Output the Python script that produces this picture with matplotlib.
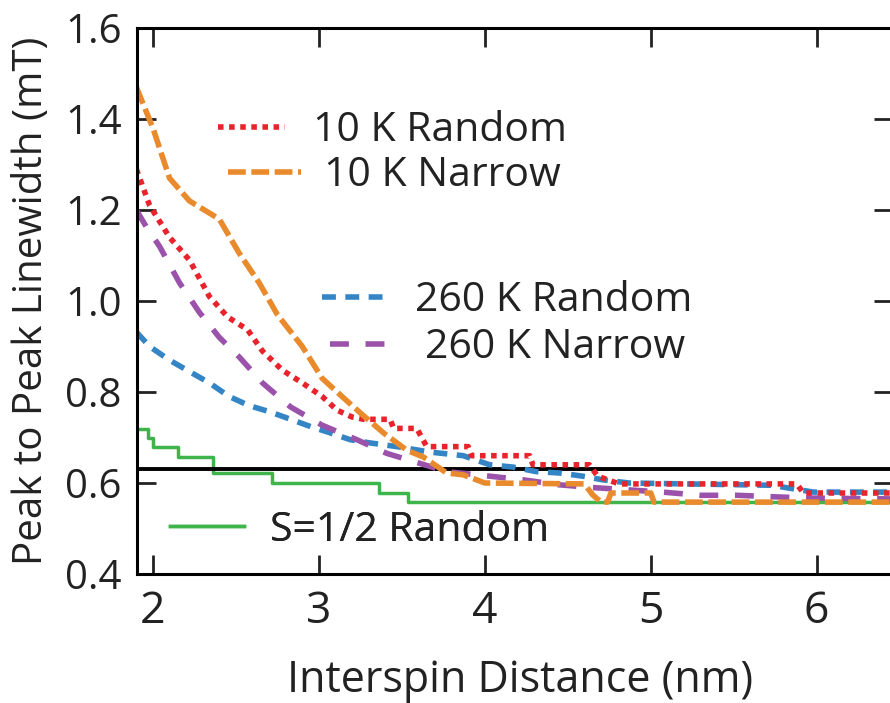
import matplotlib
matplotlib.use("Agg")
import matplotlib.pyplot as plt

plt.rcParams['font.family'] = ['Open Sans', 'DejaVu Sans']

# 10 K Random
red_x = [1.90, 1.98, 2.10, 2.22, 2.28, 2.34, 2.45, 2.57, 2.66, 2.78, 2.90, 3.02, 3.11, 3.20, 3.27,
         3.43, 3.45, 3.59, 3.65, 3.90, 3.92, 4.27, 4.29, 4.63, 4.68, 4.81, 5.88, 5.92, 6.45]
red_y = [1.29, 1.21, 1.14, 1.09, 1.05, 1.01, 0.965, 0.937, 0.89, 0.848, 0.82, 0.79, 0.76, 0.745, 0.74,
         0.74, 0.72, 0.72, 0.68, 0.68, 0.66, 0.66, 0.64, 0.64, 0.615, 0.598, 0.598, 0.578, 0.578]

# 10 K Narrow
orange_x = [1.90, 2.00, 2.10, 2.22, 2.40, 2.52, 2.64, 2.75, 2.90, 3.02, 3.14, 3.25, 3.39, 3.53,
            3.63, 3.77, 3.87, 4.00, 4.60, 4.65, 4.70, 4.74, 4.76, 5.00, 5.02, 6.45]
orange_y = [1.47, 1.38, 1.27, 1.22, 1.18, 1.105, 1.04, 0.97, 0.90, 0.83, 0.79, 0.754, 0.71, 0.672,
            0.657, 0.622, 0.618, 0.60, 0.598, 0.574, 0.558, 0.558, 0.578, 0.578, 0.558, 0.558]

# 260 K Random
blue_x = [1.90, 1.98, 2.10, 2.22, 2.34, 2.46, 2.58, 2.70, 2.83, 2.95, 3.07, 3.19, 3.31, 3.47,
          3.67, 3.87, 4.03, 4.17, 4.31, 4.45, 4.59, 4.71, 4.87, 5.73, 5.98, 6.45]
blue_y = [0.932, 0.90, 0.87, 0.845, 0.82, 0.79, 0.77, 0.757, 0.74, 0.724, 0.71, 0.695, 0.688, 0.68,
          0.668, 0.66, 0.64, 0.635, 0.625, 0.622, 0.615, 0.607, 0.60, 0.595, 0.58, 0.58]

# 260 K Narrow
purple_x = [1.90, 1.96, 2.04, 2.16, 2.28, 2.40, 2.52, 2.66, 2.83, 3.02, 3.23, 3.41, 3.61, 3.77,
            4.03, 4.23, 4.45, 4.65, 4.86, 5.07, 5.30, 5.52, 5.72, 5.94, 6.45]
purple_y = [1.20, 1.163, 1.12, 1.04, 0.975, 0.92, 0.877, 0.82, 0.767, 0.727, 0.695, 0.665, 0.643, 0.625,
            0.615, 0.607, 0.596, 0.59, 0.585, 0.58, 0.573, 0.573, 0.57, 0.567, 0.565]

# S=1/2 Random
green_x = [1.90, 1.97, 2.00, 2.15, 2.36, 2.72, 3.36, 3.54, 6.45]
green_y = [0.719, 0.70, 0.679, 0.657, 0.622, 0.60, 0.578, 0.558, 0.558]

ref_level = 0.63

fig = plt.figure(figsize=(8.9, 7.03), dpi=100)
ax = fig.add_axes([137/890, 129/703, 756/890, 546/703])

g, = ax.plot(green_x, green_y, color='#3fb44a', lw=2.5, drawstyle='steps-post')
ax.axhline(ref_level, color='black', lw=2.8)
b, = ax.plot(blue_x, blue_y, color='#3385c6', lw=4.0, ls=(0, (2.5, 1.7)))
p, = ax.plot(purple_x, purple_y, color='#9b52aa', lw=4.0, ls=(0, (3.4, 3.0)))
r, = ax.plot(red_x, red_y, color='#e8232b', lw=4.0, ls=(0, (1, 1)))
o, = ax.plot(orange_x, orange_y, color='#e98a2c', lw=4.0, ls=(0, (3.2, 1.0)))

ax.set_xlim(1.904, 6.46)
ax.set_ylim(0.4, 1.6)
ax.set_xticks([2, 3, 4, 5, 6])
ax.set_yticks([0.4, 0.6, 0.8, 1.0, 1.2, 1.4, 1.6])
ax.set_yticklabels(['0.4', '0.6', '0.8', '1.0', '1.2', '1.4', '1.6'])
ax.tick_params(direction='in', length=13.5, width=2.0, top=True, right=True, colors='#222222')
ax.tick_params(axis='x', pad=11, labelsize=32)
ax.tick_params(axis='y', pad=11, labelsize=29)
for s in ax.spines.values():
    s.set_linewidth(2.2)

ax.set_xlabel('Interspin Distance (nm)', fontsize=31, color='#222222')
ax.set_ylabel('Peak to Peak Linewidth (mT)', fontsize=29, color='#222222')
ax.xaxis.set_label_coords(0.507, -0.155)
ax.yaxis.set_label_coords(-0.112, 0.5)

entries = [
    (r, '10 K Random', (0.107, 0.812), 1.63, 0.68),
    (o, '10 K Narrow', (0.120, 0.729), 1.8, 0.56),
    (b, '260 K Random', (0.245, 0.500), 1.7, 0.56),
    (p, '260 K Narrow', (0.255, 0.414), 1.34, 0.98),
    (g, 'S=1/2 Random', (0.044, 0.080), 1.8, 0.63),
]
for h, lab, pos, hl, tp in entries:
    leg = ax.legend([h], [lab], loc='center left', bbox_to_anchor=pos, frameon=False,
                    fontsize=29.5, handlelength=hl, handletextpad=tp, borderpad=0,
                    borderaxespad=0, labelcolor='#222222')
    ax.add_artist(leg)

fig.savefig('out.png', dpi=100)
